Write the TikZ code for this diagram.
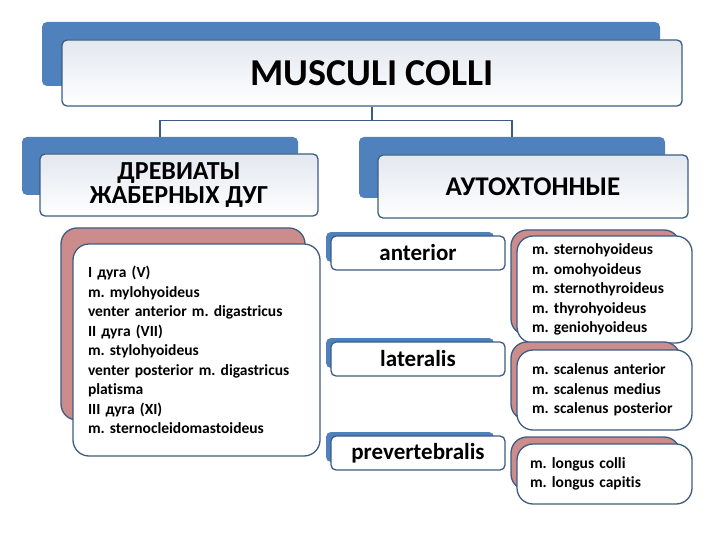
\documentclass[tikz,border=0pt]{standalone}
\usepackage{fontspec}
\setmainfont{Carlito}[Ligatures=NoCommon]
\usetikzlibrary{positioning}
\definecolor{backblue}{HTML}{4F81BD}
\definecolor{backpink}{HTML}{CD8C8C}
\definecolor{boxline}{HTML}{3E5C82}
\definecolor{boxtop}{HTML}{E3E8EF}
\frenchspacing

\begin{document}
\begin{tikzpicture}[x=1pt,y=-1pt,
  backbox/.style={fill=#1, rounded corners=5pt, inner sep=0pt},
  frontbox/.style={draw=boxline, line width=1.3pt, rounded corners=5pt, fill=white, inner sep=0pt},
  headbox/.style={frontbox, top color=boxtop, bottom color=white, text=black},
  midbox/.style={frontbox, minimum width=174, minimum height=34, font=\fontsize{23}{26}\bfseries},
  pinkback/.style={backbox=backpink, draw=boxline, line width=1.3pt, rounded corners=16pt},
  listbox/.style={frontbox, rounded corners=16pt, align=left, inner xsep=15pt, font=\fontsize{15.5}{19.5}\bfseries}]
\useasboundingbox (0,0) rectangle (720,540);
% Titulo
\node[backbox=backblue, minimum width=618, minimum height=64] (topback) at (351,54) {};
\node[headbox, minimum width=620, minimum height=66, font=\fontsize{38}{42}\bfseries] (top) at (372,73) {MUSCULI COLLI};
% Grupos
\node[backbox=backblue, minimum width=276, minimum height=58] (leftback) at (160,166) {};
\node[headbox, minimum width=278, minimum height=62, align=center, font=\fontsize{26}{24.5}\bfseries] (left) at (179,185) {ДРЕВИАТЫ\\ЖАБЕРНЫХ ДУГ};
\node[backbox=backblue, minimum width=306, minimum height=61] (rightback) at (512,167.5) {};
\node[headbox, minimum width=310, minimum height=63, font=\fontsize{27}{30}\bfseries] (right) at (533,186.5) {АУТОХТОННЫЕ};
% Ligacoes
\draw[boxline, line width=1.2pt] (top.south) -- ++(0,14) coordinate (split);
\draw[boxline, line width=1.2pt] (split) -| (leftback.north);
\draw[boxline, line width=1.2pt] (split) -| (rightback.north);
% Derivados dos arcos branquiais
\node[pinkback, minimum width=244, minimum height=192] (archback) at (183,324) {};
\node[listbox, text width=217, minimum height=212] (arch) at (196.5,350) {I дуга (V)\\m. mylohyoideus\\venter anterior m. digastricus\\II дуга (VII)\\m. stylohyoideus\\venter posterior m. digastricus\\platisma\\III дуга (XI)\\m. sternocleidomastoideus};
% Grupos autoctones
\node[backbox=backblue, minimum width=168, minimum height=30] (antback) at (410,247) {};
\node[midbox] (ant) at (418,253) {anterior};
\node[backbox=backblue, minimum width=168, minimum height=30] (latback) at (410,353) {};
\node[midbox] (lat) at (418,359) {lateralis};
\node[backbox=backblue, minimum width=168, minimum height=30] (preback) at (410,447) {};
\node[midbox] (pre) at (418,453) {prevertebralis};
% Musculos
\node[pinkback, minimum width=169, minimum height=105] (antlistback) at (595.5,282.5) {};
\node[listbox, text width=145, minimum height=107] (antlist) at (604.5,289.5) {m. sternohyoideus\\m. omohyoideus\\m. sternothyroideus\\m. thyrohyoideus\\m. geniohyoideus};
\node[pinkback, minimum width=169, minimum height=78] (latlistback) at (595.5,381) {};
\node[listbox, text width=145, minimum height=80] (latlist) at (604.5,390) {m. scalenus anterior\\m. scalenus medius\\m. scalenus posterior};
\node[pinkback, minimum width=169, minimum height=53] (prelistback) at (595.5,463.5) {};
\node[listbox, text width=149, inner xsep=13pt, minimum height=60] (prelist) at (604.5,474) {m. longus colli\\m. longus capitis};
\end{tikzpicture}
\end{document}
